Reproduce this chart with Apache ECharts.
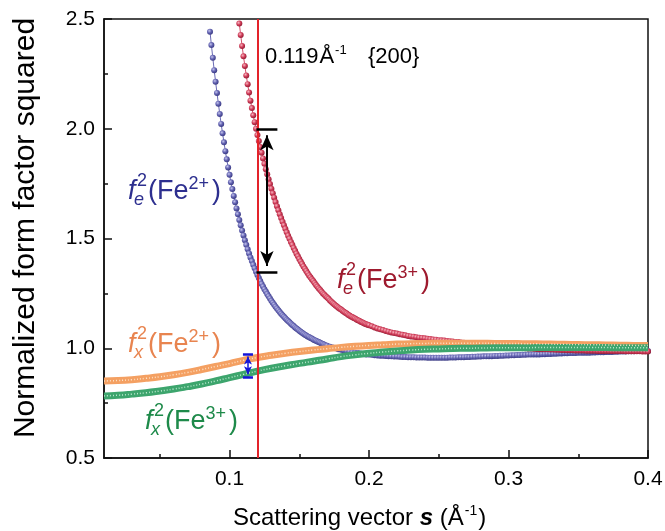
<!DOCTYPE html>
<html>
<head>
<meta charset="utf-8">
<script src="https://cdn.jsdelivr.net/npm/echarts@6/dist/echarts.min.js"></script>
<style>
  html, body { margin: 0; padding: 0; background: #fff; }
  #chart { width: 665px; height: 531px; }
</style>
</head>
<body>
<div id="chart"></div>
<script>
// Normalized squared form factors of Fe2+ / Fe3+ versus scattering vector s (Å^-1)

// Electron form factor f_e^2(Fe2+): fine grid 0.086..0.170 (step 0.001), tail 0.172..0.400 (step 0.002)
const feFe2Steep = [
  2.442, 2.381, 2.323, 2.267, 2.214, 2.163, 2.114, 2.067, 2.022, 1.979,
  1.938, 1.898, 1.861, 1.824, 1.790, 1.756, 1.725, 1.694, 1.665, 1.637,
  1.610, 1.584, 1.560, 1.536, 1.514, 1.492, 1.471, 1.451, 1.432, 1.414,
  1.397, 1.380, 1.364, 1.349, 1.334, 1.320, 1.306, 1.293, 1.281, 1.269,
  1.258, 1.247, 1.237, 1.227, 1.216, 1.207, 1.198, 1.189, 1.181, 1.173,
  1.165, 1.157, 1.150, 1.143, 1.137, 1.130, 1.124, 1.118, 1.112, 1.106,
  1.101, 1.095, 1.090, 1.085, 1.080, 1.075, 1.071, 1.066, 1.062, 1.058,
  1.054, 1.051, 1.047, 1.044, 1.040, 1.037, 1.034, 1.031, 1.028, 1.025,
  1.022, 1.019, 1.016, 1.013, 1.011
];
const feFe2Tail = [
  1.007, 1.003, 1.000, 0.996, 0.993, 0.990, 0.987, 0.985, 0.982, 0.980,
  0.978, 0.976, 0.974, 0.972, 0.971, 0.970, 0.968, 0.967, 0.966, 0.966,
  0.965, 0.964, 0.963, 0.962, 0.962, 0.961, 0.960, 0.960, 0.959, 0.959,
  0.959, 0.958, 0.958, 0.958, 0.958, 0.957, 0.957, 0.957, 0.957, 0.957,
  0.957, 0.957, 0.957, 0.958, 0.958, 0.958, 0.959, 0.959, 0.959, 0.960,
  0.960, 0.961, 0.961, 0.962, 0.962, 0.963, 0.963, 0.964, 0.964, 0.965,
  0.965, 0.966, 0.966, 0.967, 0.967, 0.968, 0.968, 0.969, 0.969, 0.970,
  0.970, 0.971, 0.971, 0.972, 0.972, 0.972, 0.973, 0.973, 0.974, 0.974,
  0.975, 0.975, 0.976, 0.976, 0.977, 0.977, 0.978, 0.978, 0.978, 0.979,
  0.979, 0.980, 0.980, 0.980, 0.981, 0.981, 0.982, 0.982, 0.982, 0.983,
  0.983, 0.983, 0.984, 0.984, 0.985, 0.985, 0.985, 0.986, 0.986, 0.986,
  0.987, 0.987, 0.987, 0.988, 0.988
];

// Electron form factor f_e^2(Fe3+): fine grid 0.107..0.200 (step 0.001), tail 0.202..0.400 (step 0.002)
const feFe3Steep = [
  2.479, 2.427, 2.377, 2.330, 2.286, 2.243, 2.203, 2.165, 2.128, 2.094,
  2.061, 2.030, 2.000, 1.971, 1.944, 1.917, 1.891, 1.865, 1.840, 1.816,
  1.793, 1.770, 1.748, 1.727, 1.706, 1.686, 1.666, 1.647, 1.629, 1.611,
  1.593, 1.576, 1.560, 1.544, 1.528, 1.513, 1.499, 1.484, 1.471, 1.457,
  1.444, 1.431, 1.419, 1.407, 1.395, 1.384, 1.373, 1.362, 1.352, 1.342,
  1.332, 1.323, 1.314, 1.306, 1.297, 1.288, 1.280, 1.272, 1.265, 1.257,
  1.250, 1.244, 1.237, 1.231, 1.225, 1.218, 1.212, 1.206, 1.201, 1.195,
  1.190, 1.185, 1.180, 1.176, 1.171, 1.166, 1.162, 1.158, 1.153, 1.149,
  1.145, 1.142, 1.138, 1.135, 1.131, 1.128, 1.125, 1.121, 1.118, 1.115,
  1.112, 1.109, 1.107, 1.105
];
const feFe3Tail = [
  1.100, 1.095, 1.090, 1.086, 1.083, 1.079, 1.075, 1.072, 1.069, 1.067,
  1.064, 1.061, 1.059, 1.056, 1.054, 1.052, 1.050, 1.048, 1.047, 1.045,
  1.043, 1.042, 1.040, 1.039, 1.037, 1.036, 1.035, 1.033, 1.032, 1.031,
  1.029, 1.028, 1.026, 1.025, 1.024, 1.022, 1.021, 1.020, 1.019, 1.017,
  1.016, 1.015, 1.013, 1.012, 1.011, 1.010, 1.009, 1.008, 1.006, 1.005,
  1.004, 1.003, 1.003, 1.002, 1.001, 1.000, 0.999, 0.999, 0.998, 0.997,
  0.996, 0.996, 0.995, 0.995, 0.994, 0.994, 0.993, 0.993, 0.992, 0.992,
  0.991, 0.991, 0.991, 0.990, 0.990, 0.990, 0.990, 0.989, 0.989, 0.989,
  0.989, 0.988, 0.988, 0.988, 0.988, 0.988, 0.987, 0.987, 0.987, 0.987,
  0.987, 0.986, 0.986, 0.986, 0.986, 0.986, 0.986, 0.985, 0.985, 0.985
];

// X-ray form factors f_x^2, s = 0.01..0.40 (step 0.01)
const fxFe2 = [
  0.851, 0.853, 0.857, 0.863, 0.870, 0.879, 0.890, 0.903, 0.917, 0.930,
  0.945, 0.958, 0.968, 0.977, 0.985, 0.992, 0.998, 1.004, 1.009, 1.013,
  1.016, 1.019, 1.021, 1.022, 1.023, 1.023, 1.023, 1.023, 1.022, 1.022,
  1.021, 1.020, 1.019, 1.018, 1.017, 1.016, 1.015, 1.014, 1.013, 1.012
];
const fxFe3 = [
  0.783, 0.786, 0.791, 0.797, 0.805, 0.814, 0.825, 0.837, 0.851, 0.866,
  0.881, 0.896, 0.909, 0.920, 0.931, 0.941, 0.951, 0.962, 0.970, 0.977,
  0.983, 0.988, 0.992, 0.995, 0.997, 0.999, 1.000, 1.001, 1.002, 1.002,
  1.002, 1.003, 1.003, 1.003, 1.003, 1.003, 1.003, 1.002, 1.002, 1.002
];

// Axis ticks
const xTickLabels = [0.1, 0.2, 0.3, 0.4];
const xMinorTicks = [0.05, 0.15, 0.25, 0.35];

// {200} reflection and the marked differences there
const cutS = 0.119;
const electronGap = { s: 0.1268, low: 1.345, high: 2.0 };
const xrayGap = { s: 0.1132, low: 0.869, high: 0.974 };

function onGrid(start, step, values) {
  return values.map((v, i) => [Number((start + i * step).toFixed(4)), v]);
}

const FONT = '"Liberation Sans", Arial, sans-serif';
const measureCtx = document.createElement('canvas').getContext('2d');
function textWidth(str, font) {
  measureCtx.font = font;
  return measureCtx.measureText(str).width;
}
// text element placed by its alphabetic baseline
function textAt(str, x, base, size, color, weight) {
  const font = (weight ? weight + ' ' : '') + size + 'px ' + FONT;
  return {
    type: 'text', x: x, y: base - 0.31 * size, silent: true,
    style: { text: str, font: font, fill: color, textAlign: 'left',
             textVerticalAlign: 'middle', verticalAlign: 'middle' }
  };
}
// f_{sub}^2(Fe^{charge}) label
function formLabel(x, base, sub, charge, color) {
  const F = 27, S = 18;
  const x0 = x + 20;
  const x1 = x0 + textWidth('(Fe', F + 'px ' + FONT);
  const x2 = x1 + textWidth(charge, S + 'px ' + FONT) + 3;
  return [
    textAt('f', x, base, F, color, 'italic'),
    textAt('2', x + 9, base - 13, S, color),
    textAt(sub, x + 6, base + 6, S, color, 'italic'),
    textAt('(Fe', x0, base, F, color),
    textAt(charge, x1, base - 10, S, color),
    textAt(')', x2, base, F, color)
  ];
}

function bead(light, mid, dark) {
  return {
    type: 'radial', x: 0.38, y: 0.35, r: 0.7,
    colorStops: [
      { offset: 0, color: light },
      { offset: 0.5, color: mid },
      { offset: 1, color: dark }
    ]
  };
}

const feFe2Data = onGrid(0.086, 0.001, feFe2Steep).concat(onGrid(0.172, 0.002, feFe2Tail));
const feFe3Data = onGrid(0.107, 0.001, feFe3Steep).concat(onGrid(0.202, 0.002, feFe3Tail));
const fxFe2Data = onGrid(0.01, 0.01, fxFe2);
const fxFe3Data = onGrid(0.01, 0.01, fxFe3);

const chart = echarts.init(document.getElementById('chart'), null, { renderer: 'canvas' });

const annotText = (function () {
  const size = 22;
  const base = 64;
  const t = cutS.toFixed(3);
  const xA = 265 + textWidth(t, size + 'px ' + FONT) + 1;
  const xSup = xA + textWidth('Å', size + 'px ' + FONT) + 1;
  return [
    textAt(t, 265, base, size, '#000'),
    textAt('Å', xA, base, size, '#000'),
    textAt('-1', xSup, base - 10, 13, '#000'),
    textAt('{200}', 368, base, size, '#000')
  ];
})();

const xTitle = (function () {
  const size = 24, base = 526, x = 233;
  const p1 = 'Scattering vector ';
  const xs = x + textWidth(p1, size + 'px ' + FONT);
  const xp = xs + textWidth('s', 'italic bold ' + size + 'px ' + FONT);
  const xsup = xp + textWidth(' (Å', size + 'px ' + FONT) + 1;
  const xc = xsup + textWidth('-1', 14 + 'px ' + FONT) + 1;
  return [
    textAt(p1, x, base, size, '#000'),
    textAt('s', xs, base, size, '#000', 'italic bold'),
    textAt(' (Å', xp, base, size, '#000'),
    textAt('-1', xsup, base - 11, 14, '#000'),
    textAt(')', xc, base, size, '#000')
  ];
})();

const yTitle = {
  type: 'text', x: 26, y: 228, rotation: Math.PI / 2, silent: true,
  style: { text: 'Normalized form factor squared', font: '30px ' + FONT, fill: '#000',
           textAlign: 'center', textVerticalAlign: 'middle', verticalAlign: 'middle' }
};

const option = {
  animation: false,
  backgroundColor: '#fff',
  grid: {
    left: 104, right: 17, top: 19, bottom: 73,
    show: true, borderColor: '#111', borderWidth: 1.5, backgroundColor: 'transparent',
    outerBoundsMode: 'none', containLabel: false
  },
  xAxis: [
    {
      type: 'value', min: 0.01, max: 0.4, position: 'bottom',
      axisLine: { show: true, onZero: false, lineStyle: { color: '#111', width: 1.5 } },
      axisTick: { show: true, inside: true, length: 8, customValues: xTickLabels,
                  lineStyle: { color: '#111', width: 1.5 } },
      axisLabel: { show: true, customValues: xTickLabels, margin: 11, color: '#000',
                   fontSize: 21, fontFamily: FONT, formatter: v => v.toFixed(1) },
      splitLine: { show: false }
    },
    {
      type: 'value', min: 0.01, max: 0.4, position: 'bottom',
      axisLine: { show: false, onZero: false },
      axisTick: { show: true, inside: true, length: 4, customValues: xMinorTicks,
                  lineStyle: { color: '#111', width: 1.5 } },
      axisLabel: { show: false },
      splitLine: { show: false }
    }
  ],
  yAxis: {
    type: 'value', min: 0.5, max: 2.5, interval: 0.5,
    axisLine: { show: true, onZero: false, lineStyle: { color: '#111', width: 1.5 } },
    axisTick: { show: true, inside: true, length: 8, lineStyle: { color: '#111', width: 1.5 } },
    minorTick: { show: true, splitNumber: 2, length: 4, lineStyle: { color: '#111', width: 1.5 } },
    axisLabel: { margin: 9, color: '#000', fontSize: 21, fontFamily: FONT,
                 formatter: v => v.toFixed(1) },
    splitLine: { show: false }
  },
  series: [
    {
      // reflection position
      type: 'line', data: [], z: 1, silent: true,
      markLine: {
        silent: true, symbol: ['none', 'none'], animation: false,
        label: { show: false },
        lineStyle: { color: '#e3232a', width: 2, type: 'solid' },
        data: [{ xAxis: cutS }]
      }
    },
    {
      name: 'fe2 Fe2+', type: 'line', data: feFe2Data, z: 2, silent: true,
      symbol: 'circle', symbolSize: 6, showSymbol: true, showAllSymbol: true,
      lineStyle: { width: 1, color: '#6a6ab4' },
      itemStyle: { color: bead('#c4c4ee', '#6262b0', '#35357e') }
    },
    {
      name: 'fe2 Fe3+', type: 'line', data: feFe3Data, z: 2, silent: true,
      symbol: 'circle', symbolSize: 6, showSymbol: true, showAllSymbol: true,
      lineStyle: { width: 1, color: '#d2506a' },
      itemStyle: { color: bead('#f8b4c0', '#cf3c58', '#8e1830') }
    },
    {
      name: 'fx2 Fe2+', type: 'line', data: fxFe2Data, z: 3, silent: true, smooth: true,
      symbol: 'none', lineStyle: { width: 7, color: '#f4a062' }
    },
    {
      name: 'fx2 Fe2+ core', type: 'line', data: fxFe2Data, z: 4, silent: true, smooth: true,
      symbol: 'none', lineStyle: { width: 1.5, color: 'rgba(255,232,208,0.9)', type: [1, 2] }
    },
    {
      name: 'fx2 Fe3+', type: 'line', data: fxFe3Data, z: 3, silent: true, smooth: true,
      symbol: 'none', lineStyle: { width: 7, color: '#3da56d' }
    },
    {
      name: 'fx2 Fe3+ core', type: 'line', data: fxFe3Data, z: 4, silent: true, smooth: true,
      symbol: 'none', lineStyle: { width: 1.5, color: 'rgba(210,245,225,0.85)', type: [1, 2] }
    },
    {
      // double arrows
      type: 'line', data: [], z: 6, silent: true,
      markLine: {
        silent: true, animation: false, label: { show: false },
        symbol: ['arrow', 'arrow'],
        data: [
          [{ coord: [electronGap.s, electronGap.low + 0.03], symbolSize: [10, 15],
             lineStyle: { color: '#000', width: 2, type: 'solid' } },
           { coord: [electronGap.s, electronGap.high - 0.03], symbolSize: [10, 15] }],
          [{ coord: [xrayGap.s, xrayGap.low + 0.012], symbolSize: [6, 8],
             lineStyle: { color: '#1414d8', width: 1.5, type: 'solid' } },
           { coord: [xrayGap.s, xrayGap.high - 0.012], symbolSize: [6, 8] }]
        ]
      }
    },
    {
      // end caps of the double arrows
      type: 'line', data: [], z: 6, silent: true,
      markLine: {
        silent: true, animation: false, label: { show: false },
        symbol: ['none', 'none'],
        data: [
          [{ coord: [electronGap.s - 0.0075, electronGap.high], lineStyle: { color: '#000', width: 2.5, type: 'solid' } },
           { coord: [electronGap.s + 0.0075, electronGap.high] }],
          [{ coord: [electronGap.s - 0.0075, electronGap.low], lineStyle: { color: '#000', width: 2.5, type: 'solid' } },
           { coord: [electronGap.s + 0.0075, electronGap.low] }],
          [{ coord: [xrayGap.s - 0.0036, xrayGap.high], lineStyle: { color: '#1414d8', width: 2.5, type: 'solid' } },
           { coord: [xrayGap.s + 0.0036, xrayGap.high] }],
          [{ coord: [xrayGap.s - 0.0036, xrayGap.low], lineStyle: { color: '#1414d8', width: 2.5, type: 'solid' } },
           { coord: [xrayGap.s + 0.0036, xrayGap.low] }]
        ]
      }
    }
  ],
  graphic: [].concat(
    formLabel(128, 200, 'e', '2+', '#2d2f8f'),
    formLabel(337, 289, 'e', '3+', '#9e1a2e'),
    formLabel(128, 353, 'x', '2+', '#e8844f'),
    formLabel(145, 430, 'x', '3+', '#1e8a4a'),
    annotText,
    xTitle,
    [yTitle]
  )
};

chart.setOption(option);
</script>
</body>
</html>
